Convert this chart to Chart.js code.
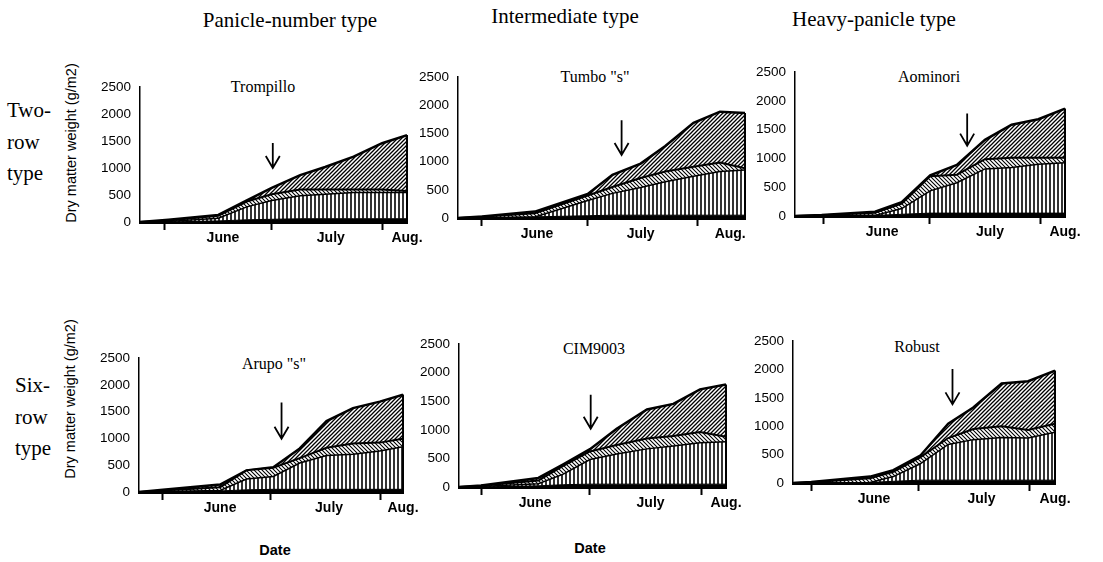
<!DOCTYPE html>
<html>
<head>
<meta charset="utf-8">
<script src="https://cdn.jsdelivr.net/npm/chart.js@4.4.1/dist/chart.umd.min.js"></script>
<style>
  body { margin: 0; width: 1103px; height: 562px; background: #fff; position: relative; overflow: hidden; }
  .lbl { position: absolute; white-space: nowrap; color: #000; transform: translate(-50%, -50%); }
  .left { transform: translate(0, -50%); }
  .serif { font-family: "Liberation Serif", "DejaVu Serif", serif; }
  .sans { font-family: "Liberation Sans", Arial, sans-serif; }
  .rot { transform: translate(-50%, -50%) rotate(-90deg); }
  canvas { position: absolute; }
</style>
</head>
<body>
<div class="lbl serif" style="left:290px;top:20px;font-size:21px">Panicle-number type</div>
<div class="lbl serif" style="left:565px;top:16px;font-size:21px">Intermediate type</div>
<div class="lbl serif" style="left:874px;top:19px;font-size:21px">Heavy-panicle type</div>

<div class="lbl serif left" style="left:7px;top:110px;font-size:21px">Two-</div>
<div class="lbl serif left" style="left:7px;top:142px;font-size:21px">row</div>
<div class="lbl serif left" style="left:7px;top:173px;font-size:21px">type</div>
<div class="lbl serif left" style="left:15px;top:385px;font-size:21px">Six-</div>
<div class="lbl serif left" style="left:15px;top:417px;font-size:21px">row</div>
<div class="lbl serif left" style="left:15px;top:448px;font-size:21px">type</div>

<div class="lbl sans rot" style="left:71px;top:143px;font-size:14.5px">Dry matter weight (g/m2)</div>
<div class="lbl sans rot" style="left:70px;top:399px;font-size:14.5px">Dry matter weight (g/m2)</div>

<div class="lbl sans" style="left:275px;top:550px;font-size:14.5px;font-weight:bold">Date</div>
<div class="lbl sans" style="left:590px;top:548px;font-size:14.5px;font-weight:bold">Date</div>

<div class="lbl serif" style="left:263px;top:87px;font-size:16px">Trompillo</div>
<div class="lbl serif" style="left:595px;top:77px;font-size:16px">Tumbo "s"</div>
<div class="lbl serif" style="left:929px;top:77px;font-size:16px">Aominori</div>
<div class="lbl serif" style="left:274px;top:364px;font-size:16px">Arupo "s"</div>
<div class="lbl serif" style="left:594px;top:349px;font-size:16px">CIM9003</div>
<div class="lbl serif" style="left:917px;top:347px;font-size:16px">Robust</div>

<script>
/* ── Data (x = days from May 1, y = cumulative dry matter g/m2) ── */
const monthEdges = [31, 61, 92];          // June 1, July 1, Aug 1
const monthNames = ["June", "July", "Aug."];
const yTicks = [0, 500, 1000, 1500, 2000, 2500];

// Trompillo
const trompilloDays  = [24, 32, 46, 54, 61, 69, 76, 84, 92, 99];
const trompilloDead  = [0, 0, 20, 40, 50, 60, 60, 60, 60, 60];
const trompilloStem  = [0, 10, 70, 280, 400, 486, 515, 545, 545, 545];
const trompilloLeaf  = [0, 30, 115, 380, 515, 604, 604, 604, 600, 575];
const trompilloTotal = [0, 40, 130, 400, 634, 870, 1020, 1210, 1460, 1610];

// Tumbo "s"
const tumboDays  = [24.2, 31, 46, 61, 68, 76, 83, 91, 98.5, 105.6];
const tumboDead  = [0, 0, 20, 40, 50, 50, 50, 50, 50, 50];
const tumboStem  = [0, 5, 17, 312, 437, 540, 642, 739, 824, 852];
const tumboLeaf  = [0, 20, 85, 398, 551, 710, 824, 909, 983, 881];
const tumboTotal = [0, 28, 114, 426, 767, 966, 1278, 1688, 1886, 1864];

// Aominori
const aominoriDays  = [23.1, 30.6, 45.6, 53.1, 61.1, 68.6, 76.5, 84, 91.5, 99];
const aominoriDead  = [0, 0, 10, 30, 50, 50, 50, 50, 50, 50];
const aominoriStem  = [0, 5, 11, 129, 437, 577, 818, 841, 897, 925];
const aominoriLeaf  = [0, 12, 56, 213, 689, 717, 986, 1010, 1010, 1010];
const aominoriTotal = [0, 17, 73, 241, 706, 886, 1323, 1586, 1681, 1866];

// Arupo "s"
const arupoDays  = [24.3, 31, 47, 54.4, 61.9, 69.3, 76.8, 84.2, 91.7, 98.2];
const arupoDead  = [0, 0, 20, 40, 50, 50, 50, 50, 50, 50];
const arupoStem  = [0, 10, 30, 241, 289, 542, 681, 705, 765, 843];
const arupoLeaf  = [0, 30, 90, 404, 452, 633, 825, 904, 922, 994];
const arupoTotal = [0, 42, 139, 404, 464, 813, 1325, 1566, 1687, 1819];

// CIM9003
const cimDays  = [24.9, 31, 46.9, 53.8, 61.2, 68.6, 77, 84.3, 91.7, 98.9];
const cimDead  = [0, 0, 20, 40, 50, 50, 50, 50, 50, 50];
const cimStem  = [0, 10, 57, 226, 481, 577, 667, 718, 775, 792];
const cimLeaf  = [0, 20, 113, 368, 622, 735, 848, 894, 962, 877];
const cimTotal = [0, 28, 158, 396, 662, 1018, 1357, 1454, 1708, 1793];

// Robust
const robustDays  = [25.9, 31, 47.4, 53.9, 61.4, 69.2, 76.2, 84.1, 91.5, 99];
const robustDead  = [0, 0, 10, 30, 50, 50, 50, 50, 50, 50];
const robustStem  = [0, 5, 11, 113, 339, 679, 764, 803, 792, 894];
const robustLeaf  = [0, 12, 85, 198, 452, 792, 950, 1001, 933, 1046];
const robustTotal = [0, 17, 113, 226, 481, 1046, 1329, 1753, 1793, 1980];

// heading arrows: [day, from, to]
const arrowTrompillo = [61.3, 1463, 1000];
const arrowTumbo     = [70.6, 1733, 1119];
const arrowAominori  = [71.5, 1782, 1222];
const arrowArupo     = [64.2, 1669, 994];
const arrowCim       = [61.4, 1612, 1018];
const arrowRobust    = [70.4, 2008, 1386];

// day where each month name sits under the axis
const labelsTrompillo = [47.3, 77.6, 99];
const labelsTumbo     = [46.6, 76, 101.4];
const labelsAominori  = [47.6, 77.9, 99];
const labelsArupo     = [47, 77.5, 98.2];
const labelsCim       = [46, 78, 98.9];
const labelsRobust    = [48.5, 78.5, 99];

/* ── Layout: chart-area box on the page ── */
const AXIS_W = 70, AXIS_H = 30, PAD_T = 12, PAD_R = 36;

const panels = [
  { days: trompilloDays, dead: trompilloDead, stem: trompilloStem, leaf: trompilloLeaf, total: trompilloTotal,
    arrow: arrowTrompillo, labels: labelsTrompillo, box: [140, 82, 407, 222] },
  { days: tumboDays, dead: tumboDead, stem: tumboStem, leaf: tumboLeaf, total: tumboTotal,
    arrow: arrowTumbo, labels: labelsTumbo, box: [458, 72, 745, 218] },
  { days: aominoriDays, dead: aominoriDead, stem: aominoriStem, leaf: aominoriLeaf, total: aominoriTotal,
    arrow: arrowAominori, labels: labelsAominori, box: [795, 67, 1065, 216] },
  { days: arupoDays, dead: arupoDead, stem: arupoStem, leaf: arupoLeaf, total: arupoTotal,
    arrow: arrowArupo, labels: labelsArupo, box: [139, 353, 403, 492] },
  { days: cimDays, dead: cimDead, stem: cimStem, leaf: cimLeaf, total: cimTotal,
    arrow: arrowCim, labels: labelsCim, box: [459, 339, 726, 487] },
  { days: robustDays, dead: robustDead, stem: robustStem, leaf: robustLeaf, total: robustTotal,
    arrow: arrowRobust, labels: labelsRobust, box: [793, 336, 1055, 483] },
];

/* ── Hatch patterns ── */
function hatch(kind) {
  const s = 4;
  const t = document.createElement("canvas");
  t.width = s; t.height = s;
  const g = t.getContext("2d");
  g.fillStyle = "#fff";
  g.fillRect(0, 0, s, s);
  g.strokeStyle = "#000";
  g.beginPath();
  if (kind === "vert") {
    g.lineWidth = 1.6;
    g.moveTo(1, 0); g.lineTo(1, s);
  } else if (kind === "back") {
    g.lineWidth = 1.1;
    g.moveTo(-1, -1); g.lineTo(s + 1, s + 1);
    g.moveTo(-1, s - 1); g.lineTo(1, s + 1);
    g.moveTo(s - 1, -1); g.lineTo(s + 1, 1);
  } else {
    g.lineWidth = 1.3;
    g.moveTo(-1, s + 1); g.lineTo(s + 1, -1);
    g.moveTo(-1, 1); g.lineTo(1, -1);
    g.moveTo(s - 1, s + 1); g.lineTo(s + 1, s - 1);
  }
  g.stroke();
  return g.createPattern(t, "repeat");
}
const vertFill = hatch("vert");
const backFill = hatch("back");
const fwdFill = hatch("fwd");

/* ── Arrow + closing right edge ── */
const marks = {
  id: "marks",
  afterDatasetsDraw(chart, args, opts) {
    const { ctx, scales: { x, y } } = chart;
    ctx.save();
    ctx.strokeStyle = "#000";
    ctx.lineWidth = 2;
    const xe = x.getPixelForValue(opts.lastDay);
    ctx.beginPath();
    ctx.moveTo(xe, y.getPixelForValue(0));
    ctx.lineTo(xe, y.getPixelForValue(opts.lastTotal));
    ctx.stroke();

    const xa = x.getPixelForValue(opts.arrow[0]);
    const y1 = y.getPixelForValue(opts.arrow[1]);
    const y2 = y.getPixelForValue(opts.arrow[2]);
    ctx.lineWidth = 1.8;
    ctx.beginPath();
    ctx.moveTo(xa, y1); ctx.lineTo(xa, y2);
    ctx.moveTo(xa - 7, y2 - 12); ctx.lineTo(xa, y2); ctx.lineTo(xa + 7, y2 - 12);
    ctx.stroke();
    ctx.restore();
  },
};

Chart.defaults.font.family = '"Liberation Sans", Arial, sans-serif';
Chart.defaults.color = "#000";

function makePanel(p) {
  const [L, T, R, B] = p.box;
  const W = R - L + AXIS_W + PAD_R;
  const H = B - T + PAD_T + AXIS_H;
  const c = document.createElement("canvas");
  c.width = W; c.height = H;
  c.style.width = W + "px"; c.style.height = H + "px";
  c.style.left = (L - AXIS_W) + "px";
  c.style.top = (T - PAD_T) + "px";
  document.body.appendChild(c);

  const pts = (arr) => p.days.map((d, i) => ({ x: d, y: arr[i] }));
  const ds = (label, arr, fill, bg, bw) => ({
    label, data: pts(arr), fill, backgroundColor: bg,
    borderColor: "#000", borderWidth: bw, pointRadius: 0, tension: 0,
  });
  const tickVals = [...monthEdges, ...p.labels].sort((a, b) => a - b);

  new Chart(c, {
    type: "line",
    data: {
      datasets: [
        ds("Dead", p.dead, "origin", "#000", 1),
        ds("Stem", p.stem, "-1", vertFill, 1.5),
        ds("Leaf", p.leaf, "-1", backFill, 2),
        ds("Ear", p.total, "-1", fwdFill, 2.5),
      ],
    },
    options: {
      responsive: false,
      devicePixelRatio: 1,
      animation: false,
      layout: { padding: { top: PAD_T, right: PAD_R, left: 0, bottom: 0 } },
      plugins: {
        legend: { display: false },
        tooltip: { enabled: false },
        marks: { arrow: p.arrow, lastDay: p.days[p.days.length - 1], lastTotal: p.total[p.total.length - 1] },
      },
      scales: {
        x: {
          type: "linear",
          min: p.days[0],
          max: p.days[p.days.length - 1],
          afterBuildTicks: (s) => { s.ticks = tickVals.map((v) => ({ value: v })); },
          afterFit: (s) => { s.height = AXIS_H; },
          ticks: {
            autoSkip: false, maxRotation: 0, padding: 0,
            font: { size: 14, weight: "bold" },
            callback: (v) => { const i = p.labels.indexOf(v); return i >= 0 ? monthNames[i] : ""; },
          },
          grid: {
            drawOnChartArea: false, tickLength: 8, tickWidth: 2,
            tickColor: (ctx) => (ctx.tick && monthEdges.includes(ctx.tick.value) ? "#000" : "rgba(0,0,0,0)"),
          },
          border: { color: "#000", width: 3 },
        },
        y: {
          min: 0,
          max: 2500,
          afterBuildTicks: (s) => { s.ticks = yTicks.map((v) => ({ value: v })); },
          afterFit: (s) => { s.width = AXIS_W; },
          ticks: { padding: 9, font: { size: 13.5 }, callback: (v) => String(v) },
          grid: { drawOnChartArea: false, drawTicks: false },
          border: { color: "#000", width: 1.5 },
        },
      },
    },
    plugins: [marks],
  });
}

panels.forEach(makePanel);
</script>
</body>
</html>
